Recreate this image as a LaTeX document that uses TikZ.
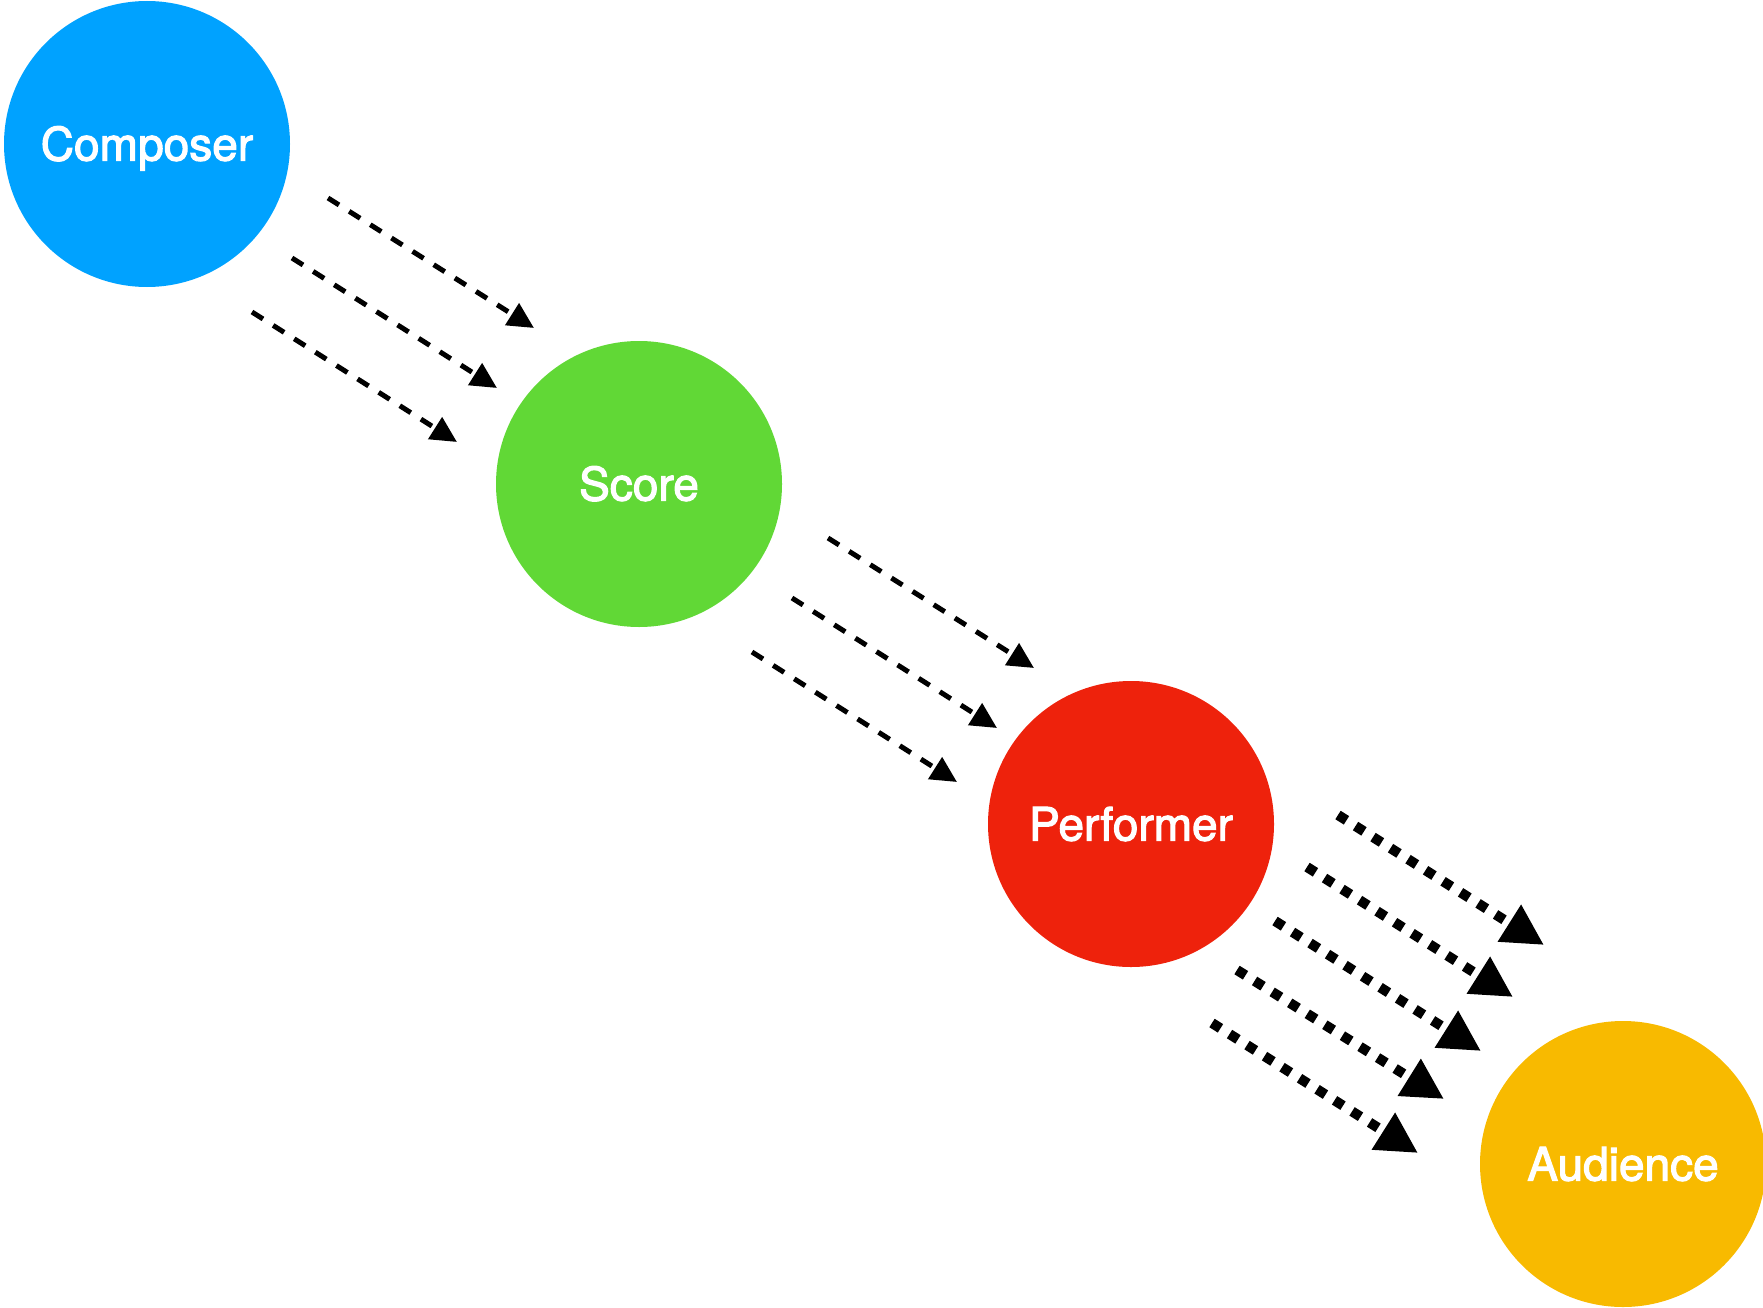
\documentclass[tikz,border=0pt]{standalone}
\usepackage{fontspec}
\setmainfont{TeX Gyre Heros}[FakeBold=2.5]
\usepackage{tikz}
\usetikzlibrary{arrows.meta}

\definecolor{composerblue}{HTML}{00A2FF}
\definecolor{scoregreen}{HTML}{61D836}
\definecolor{performerred}{HTML}{EE220C}
\definecolor{audienceyellow}{HTML}{F8BA00}

\begin{document}
\begin{tikzpicture}[x=1pt, y=-1pt,
party/.style={circle, minimum size=286pt, inner sep=0pt, text=white, text height=33pt, text depth=0pt, font=\fontsize{46}{50}\selectfont},
flow/.style={-{Triangle[length=26pt,width=25pt]}, line width=5pt, dash pattern=on 13pt off 12pt},
sound/.style={-{Triangle[length=41pt,width=41pt]}, line width=10pt, dash pattern=on 10pt off 10.7pt}
]
\useasboundingbox (0,0) rectangle (1763,1308);
\node[party, fill=composerblue] (composer) at (147,144) {Composer};
\node[party, fill=scoregreen] (score) at (639,484) {Score};
\node[party, fill=performerred] (performer) at (1131,824) {Performer};
\node[party, fill=audienceyellow] (audience) at (1623,1164) {Audience};
% composer to score
\coordinate (cs1a) at (328,198); \coordinate (cs1b) at (534,328);
\coordinate (cs2a) at (292,258); \coordinate (cs2b) at (497,388);
\coordinate (cs3a) at (252,312); \coordinate (cs3b) at (457,442);
\draw[flow] (cs1a) -- (cs1b);
\draw[flow] (cs2a) -- (cs2b);
\draw[flow] (cs3a) -- (cs3b);
% score to performer
\coordinate (sp1a) at (828,538); \coordinate (sp1b) at (1034,668);
\coordinate (sp2a) at (792,598); \coordinate (sp2b) at (997,728);
\coordinate (sp3a) at (752,652); \coordinate (sp3b) at (957,782);
\draw[flow] (sp1a) -- (sp1b);
\draw[flow] (sp2a) -- (sp2b);
\draw[flow] (sp3a) -- (sp3b);
% performer to audience
\coordinate (pa1a) at (1338,815); \coordinate (pa1b) at (1544,945);
\coordinate (pa2a) at (1307,867); \coordinate (pa2b) at (1513,997);
\coordinate (pa3a) at (1275,921); \coordinate (pa3b) at (1481,1051);
\coordinate (pa4a) at (1237,970); \coordinate (pa4b) at (1444,1099);
\coordinate (pa5a) at (1212,1023); \coordinate (pa5b) at (1418,1153);
\draw[sound] (pa1a) -- (pa1b);
\draw[sound] (pa2a) -- (pa2b);
\draw[sound] (pa3a) -- (pa3b);
\draw[sound] (pa4a) -- (pa4b);
\draw[sound] (pa5a) -- (pa5b);
\end{tikzpicture}
\end{document}
